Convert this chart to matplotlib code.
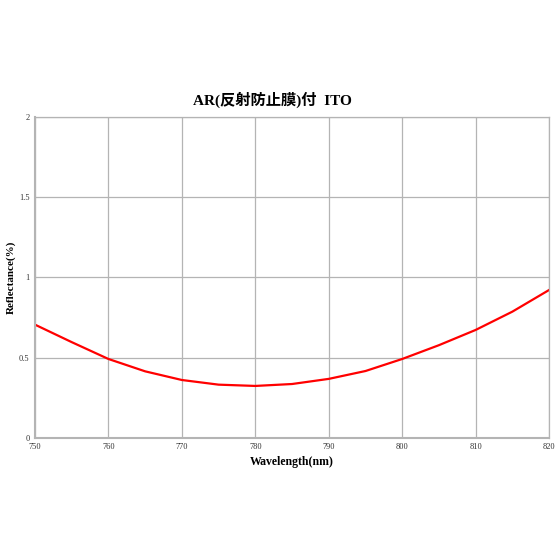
import matplotlib
matplotlib.use("Agg")
import matplotlib.pyplot as plt

wavelength = [750, 755, 760, 765, 770, 775, 780, 785, 790, 795, 800, 805, 810, 815, 820]
reflectance = [0.706, 0.597, 0.492, 0.415, 0.361, 0.332, 0.324, 0.336, 0.368, 0.417, 0.492, 0.578, 0.673, 0.787, 0.922]
xticks = [750, 760, 770, 780, 790, 800, 810, 820]
yticks = [0, 0.5, 1, 1.5, 2]
ytick_labels = ["0", "0.5", "1", "1.5", "2"]

serif = ["Liberation Serif", "Noto Sans CJK JP"]

fig = plt.figure(figsize=(5.6, 5.6), dpi=100)
ax = fig.add_axes([0.0625, 0.218, 0.918, 0.573])
ax.plot(wavelength, reflectance, color="#ff0000", lw=1.6)
ax.set_xlim(750, 820)
ax.set_ylim(0, 2)
ax.set_xticks(xticks)
ax.set_yticks(yticks)
ax.set_yticklabels(ytick_labels)
ax.grid(True, color="#b4b4b4", lw=0.9)
for s in ax.spines.values():
    s.set_color("#b4b4b4")
    s.set_linewidth(0.9)
ax.spines["left"].set_linewidth(1.5)
ax.spines["bottom"].set_linewidth(1.5)
ax.tick_params(length=0, labelsize=6, colors="#333333", pad=4)
for lab in ax.get_xticklabels() + ax.get_yticklabels():
    lab.set_family(serif)
ax.set_xlabel("Wavelength(nm)", family=serif, fontsize=8.5, fontweight="bold", labelpad=3)
ax.set_ylabel("Reflectance(%)", family=serif, fontsize=8, fontweight="bold", labelpad=2)
fig.text(272 / 560, 1 - 100 / 560, "AR(反射防止膜)付  ITO", family=serif, fontsize=11,
         fontweight="bold", ha="center", va="center")
fig.savefig("out.png", dpi=100)
